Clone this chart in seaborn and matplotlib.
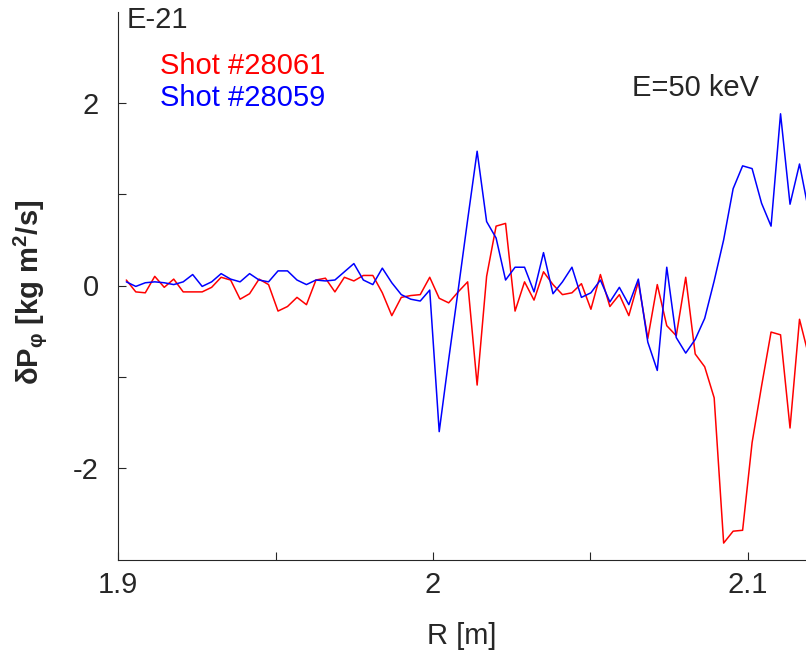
import numpy as np
import pandas as pd
import matplotlib
matplotlib.use("Agg")
import matplotlib.pyplot as plt
import seaborn as sns

# Toroidal canonical momentum change (units of 1e-21 kg m^2/s) versus major radius
shot_28061 = [
    0.06, -0.07, -0.08, 0.10, -0.02, 0.07, -0.07, -0.07, -0.07, -0.02,
    0.09, 0.06, -0.15, -0.09, 0.07, 0.01, -0.28, -0.23, -0.13, -0.21,
    0.06, 0.08, -0.07, 0.09, 0.05, 0.11, 0.11, -0.08, -0.33, -0.13,
    -0.11, -0.10, 0.09, -0.14, -0.19, -0.07, 0.04, -1.09, 0.10, 0.65,
    0.68, -0.28, 0.04, -0.16, 0.15, 0.01, -0.10, -0.08, 0.02, -0.26,
    0.12, -0.23, -0.10, -0.33, 0.04, -0.58, 0.01, -0.44, -0.55, 0.09,
    -0.75, -0.89, -1.23, -2.82, -2.69, -2.68, -1.72, -1.10, -0.51, -0.54,
    -1.56, -0.37, -0.78,
]
shot_28059 = [
    0.04, -0.01, 0.03, 0.04, 0.03, 0.01, 0.04, 0.12, -0.01, 0.04,
    0.13, 0.07, 0.04, 0.13, 0.06, 0.04, 0.16, 0.16, 0.06, 0.01,
    0.06, 0.05, 0.06, 0.15, 0.24, 0.06, 0.01, 0.19, 0.03, -0.10,
    -0.15, -0.17, -0.05, -1.60, -0.81, -0.05, 0.72, 1.47, 0.70, 0.52,
    0.06, 0.20, 0.20, -0.07, 0.36, -0.09, 0.04, 0.20, -0.13, -0.08,
    0.06, -0.18, -0.02, -0.21, 0.07, -0.62, -0.93, 0.20, -0.57, -0.74,
    -0.59, -0.36, 0.05, 0.50, 1.06, 1.31, 1.28, 0.90, 0.65, 1.88,
    0.89, 1.33, 0.80,
]
# Radial sampling grid [m]
r_start, r_step = 1.90264, 0.00301
radius = r_start + r_step * np.arange(len(shot_28061))

shot_labels = ["Shot #28061", "Shot #28059"]
shot_colors = {"Shot #28061": "#ff0000", "Shot #28059": "#0000ff"}

x_ticks = [1.9, 1.95, 2.0, 2.05, 2.1]
x_ticklabels = ["1.9", "", "2", "", "2.1"]
y_ticks = [-2, -1, 0, 1, 2]
y_ticklabels = ["-2", "", "0", "", "2"]

df = pd.concat([
    pd.DataFrame({"R": radius, "dP": shot_28061, "shot": shot_labels[0]}),
    pd.DataFrame({"R": radius, "dP": shot_28059, "shot": shot_labels[1]}),
])

sns.set_theme(style="ticks")
plt.rcParams["font.family"] = ["Liberation Sans", "DejaVu Sans"]
plt.rcParams["mathtext.default"] = "regular"

ink = "#262626"
fs = 21
fig = plt.figure(figsize=(8.06, 6.53), dpi=100)
ax = fig.add_axes([118 / 806, 1 - 559.5 / 653, 1 - 118 / 806, 548 / 653])

sns.lineplot(data=df, x="R", y="dP", hue="shot", hue_order=shot_labels,
             palette=shot_colors, estimator=None, sort=False,
             linewidth=1.1, legend=False, ax=ax)

ax.set_xlim(1.9, 1.9 + 688 / 3150)
ax.set_ylim(-3, 3)
ax.set_xticks(x_ticks)
ax.set_xticklabels(x_ticklabels)
ax.set_yticks(y_ticks)
ax.set_yticklabels(y_ticklabels)
ax.tick_params(direction="in", length=6, width=0.8, color=ink,
               labelsize=fs, labelcolor=ink)
ax.tick_params(axis="x", pad=8)
ax.tick_params(axis="y", pad=14)
for side in ("top", "right"):
    ax.spines[side].set_visible(False)
for side in ("left", "bottom"):
    ax.spines[side].set_color(ink)
    ax.spines[side].set_linewidth(0.8)

ax.set_xlabel("R [m]", fontsize=fs, color=ink, labelpad=17)
ax.set_ylabel("")
fig.text(30 / 806, 1 - 292 / 653, r"δP$_{φ}$ [kg m$^{2}$/s]", rotation=90,
         ha="center", va="center", fontsize=fs, fontweight="bold", color=ink)

fig.text(127 / 806, 1 - 28 / 653, "E-21", fontsize=fs, color=ink, va="baseline")
fig.text(160 / 806, 1 - 74 / 653, shot_labels[0], fontsize=fs,
         color=shot_colors[shot_labels[0]], va="baseline")
fig.text(160 / 806, 1 - 106 / 653, shot_labels[1], fontsize=fs,
         color=shot_colors[shot_labels[1]], va="baseline")
ax.text(632 / 806, 1 - 96 / 653, "E=50 keV", transform=fig.transFigure,
        fontsize=fs, color=ink, va="baseline")

fig.savefig("out.png", dpi=100)
